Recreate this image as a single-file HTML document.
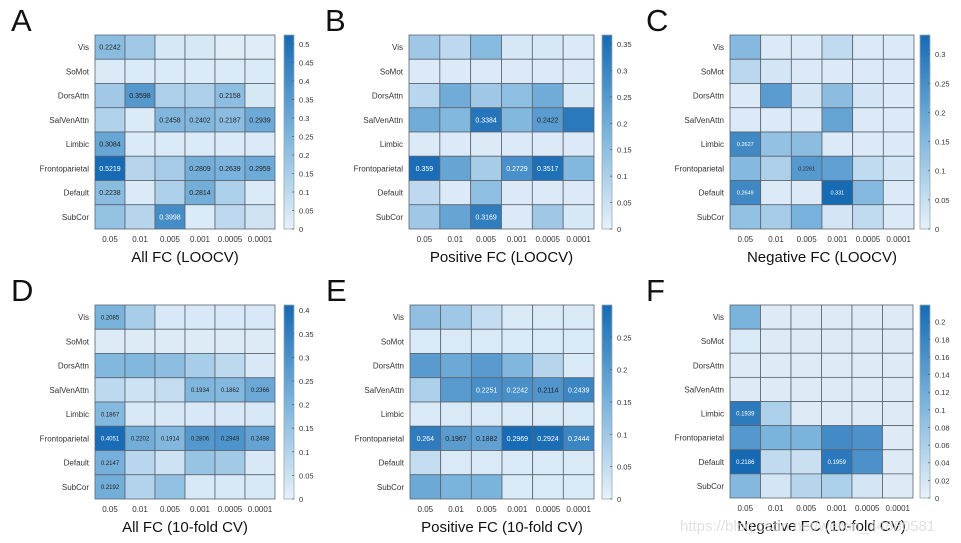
<!DOCTYPE html>
<html><head><meta charset="utf-8"><style>
html,body{margin:0;padding:0;background:#fff;}
svg{display:block;font-family:"Liberation Sans","DejaVu Sans",sans-serif;}
</style></head><body>
<svg id="fig" width="961" height="543" viewBox="0 0 961 543"></svg>
<script>
const rowLabels = ["Vis","SoMot","DorsAttn","SalVenAttn","Limbic","Frontoparietal","Default","SubCor"];
const colLabels = ["0.05","0.01","0.005","0.001","0.0005","0.0001"];
const valuesA = [[.2242,.17,.04,.04,.02,.02],[.03,.03,.03,.03,.03,.03],[.17,.3598,.14,.14,.2158,.04],[.13,.03,.2458,.2402,.2187,.2939],[.3084,.03,.03,.03,.03,.03],[.5219,.12,.16,.2809,.2639,.2959],[.2238,.03,.14,.2814,.14,.03],[.2,.12,.3998,.03,.1,.06]];
const labeledA = [[1,0,0,0,0,0],[0,0,0,0,0,0],[0,1,0,0,1,0],[0,0,1,1,1,1],[1,0,0,0,0,0],[1,0,0,1,1,1],[1,0,0,1,0,0],[0,0,1,0,0,0]];
const valuesB = [[.12,.07,.16,.03,.03,.02],[.02,.02,.02,.02,.02,.02],[.08,.2,.12,.15,.2,.03],[.2,.17,.3384,.17,.2422,.33],[.02,.02,.02,.02,.02,.02],[.359,.22,.11,.2729,.3517,.17],[.07,.02,.15,.02,.02,.02],[.12,.22,.3169,.02,.12,.03]];
const labeledB = [[0,0,0,0,0,0],[0,0,0,0,0,0],[0,0,0,0,0,0],[0,0,1,0,1,0],[0,0,0,0,0,0],[1,0,0,1,1,0],[0,0,0,0,0,0],[0,0,1,0,0,0]];
const valuesC = [[.15,.02,.02,.06,.02,.02],[.07,.03,.02,.02,.02,.02],[.02,.22,.03,.14,.03,.02],[.02,.02,.02,.2,.02,.02],[.2627,.13,.14,.02,.02,.02],[.15,.09,.2261,.21,.06,.03],[.2649,.02,.02,.331,.15,.02],[.13,.1,.17,.03,.06,.02]];
const labeledC = [[0,0,0,0,0,0],[0,0,0,0,0,0],[0,0,0,0,0,0],[0,0,0,0,0,0],[1,0,0,0,0,0],[0,0,1,0,0,0],[1,0,0,1,0,0],[0,0,0,0,0,0]];
const valuesD = [[.2085,.12,.03,.03,.03,.03],[.02,.02,.02,.02,.02,.02],[.19,.19,.17,.12,.08,.03],[.08,.05,.07,.1934,.1862,.2366],[.1867,.03,.03,.03,.03,.03],[.4051,.2202,.1914,.2806,.2949,.2498],[.2147,.09,.05,.15,.13,.03],[.2192,.1,.16,.03,.03,.03]];
const labeledD = [[1,0,0,0,0,0],[0,0,0,0,0,0],[0,0,0,0,0,0],[0,0,0,1,1,1],[1,0,0,0,0,0],[1,1,1,1,1,1],[1,0,0,0,0,0],[1,0,0,0,0,0]];
const valuesE = [[.12,.1,.05,.02,.02,.02],[.02,.02,.02,.02,.02,.02],[.2,.17,.2,.14,.07,.02],[.08,.2,.2251,.2242,.2114,.2439],[.02,.02,.02,.02,.02,.02],[.264,.1967,.1882,.2969,.2924,.2444],[.05,.02,.02,.02,.02,.02],[.17,.15,.15,.02,.02,.02]];
const labeledE = [[0,0,0,0,0,0],[0,0,0,0,0,0],[0,0,0,0,0,0],[0,0,1,1,1,1],[0,0,0,0,0,0],[1,1,1,1,1,1],[0,0,0,0,0,0],[0,0,0,0,0,0]];
const valuesF = [[.11,.01,.01,.01,.01,.01],[.015,.01,.01,.01,.01,.01],[.01,.01,.01,.01,.01,.01],[.01,.01,.01,.01,.01,.01],[.1939,.06,.01,.01,.01,.01],[.15,.11,.11,.17,.16,.01],[.2186,.04,.03,.1959,.16,.01],[.1,.02,.05,.06,.02,.01]];
const labeledF = [[0,0,0,0,0,0],[0,0,0,0,0,0],[0,0,0,0,0,0],[0,0,0,0,0,0],[1,0,0,0,0,0],[0,0,0,0,0,0],[1,0,0,1,0,0],[0,0,0,0,0,0]];
const maxA=0.524, maxB=0.367, maxC=0.333, maxD=0.411, maxE=0.30, maxF=0.219;
const ticksA=["0","0.05","0.1","0.15","0.2","0.25","0.3","0.35","0.4","0.45","0.5"];
const ticksB=["0","0.05","0.1","0.15","0.2","0.25","0.3","0.35"];
const ticksC=["0","0.05","0.1","0.15","0.2","0.25","0.3"];
const ticksD=["0","0.05","0.1","0.15","0.2","0.25","0.3","0.35","0.4"];
const ticksE=["0","0.05","0.1","0.15","0.2","0.25"];
const ticksF=["0","0.02","0.04","0.06","0.08","0.1","0.12","0.14","0.16","0.18","0.2"];

const NS="http://www.w3.org/2000/svg";
const svg=document.getElementById('fig');
function mk(tag,attrs,parent){const e=document.createElementNS(NS,tag);for(const k in attrs)e.setAttribute(k,attrs[k]);(parent||svg).appendChild(e);return e;}
const stops=[[232,241,250],[122,179,220],[22,106,180]];
function color(t){t=Math.max(0,Math.min(1,t));let a,b,u;if(t<.5){a=stops[0];b=stops[1];u=t/.5;}else{a=stops[1];b=stops[2];u=(t-.5)/.5;}
return 'rgb('+a.map((v,i)=>Math.round(v+(b[i]-v)*u)).join(',')+')';}

const panels=[
 {id:'a',letter:'A',title:'All FC (LOOCV)',vals:valuesA,lab:labeledA,max:maxA,ticks:ticksA,gx:95,gy:35,gw:180,gh:194,cbx:284,fs:7},
 {id:'b',letter:'B',title:'Positive FC (LOOCV)',vals:valuesB,lab:labeledB,max:maxB,ticks:ticksB,gx:409,gy:35,gw:185,gh:194,cbx:602,fs:7},
 {id:'c',letter:'C',title:'Negative FC (LOOCV)',vals:valuesC,lab:labeledC,max:maxC,ticks:ticksC,gx:730,gy:35,gw:184,gh:194,cbx:920,fs:5.5},
 {id:'d',letter:'D',title:'All FC (10-fold CV)',vals:valuesD,lab:labeledD,max:maxD,ticks:ticksD,gx:95,gy:305,gw:180,gh:194,cbx:284,fs:6},
 {id:'e',letter:'E',title:'Positive FC (10-fold CV)',vals:valuesE,lab:labeledE,max:maxE,ticks:ticksE,gx:410,gy:305,gw:184,gh:194,cbx:602,fs:7},
 {id:'f',letter:'F',title:'Negative FC (10-fold CV)',vals:valuesF,lab:labeledF,max:maxF,ticks:ticksF,gx:730,gy:305,gw:183,gh:193,cbx:920,fs:6},
];
const defs=mk('defs',{});
const lg=mk('linearGradient',{id:'cbg',x1:0,y1:1,x2:0,y2:0},defs);
[0,.5,1].forEach((o,i)=>mk('stop',{offset:o,'stop-color':'rgb('+stops[i].join(',')+')'},lg));

panels.forEach(p=>{
 const g=mk('g',{});
 
 
 const L=mk('text',{x:p.gx-84,y:p.gy-4,'font-size':31,fill:'#111'},g);L.textContent=p.letter;
 
 
 const cw=p.gw/6, ch=p.gh/8;
 const xs=c=>p.gx+c*cw, ys=r=>p.gy+r*ch;
 p.vals.forEach((row,r)=>row.forEach((v,c)=>{
  const t=v/p.max;
  const rc=mk('rect',{x:xs(c),y:ys(r),width:cw,height:ch,fill:color(t),stroke:'#5a6470','stroke-width':0.8},g);
  
  
  if(p.lab[r][c]){
   const tx=mk('text',{x:xs(c)+cw/2,y:ys(r)+ch/2+p.fs*0.36,'text-anchor':'middle','font-size':p.fs,fill:t>0.72?'#fff':'#222'},g);
   tx.textContent=String(v);
   
   
  }
 }));
 rowLabels.forEach((lbl,r)=>{
  const t=mk('text',{x:p.gx-6,y:ys(r)+ch/2+3,'text-anchor':'end','font-size':8,fill:'#333'},g);t.textContent=lbl;
  
  
 });
 colLabels.forEach((lbl,c)=>{
  const t=mk('text',{x:xs(c)+cw/2,y:p.gy+p.gh+13,'text-anchor':'middle','font-size':8,fill:'#333'},g);t.textContent=lbl;
  
  
 });
 const tt=mk('text',{x:p.gx+p.gw/2,y:p.gy+p.gh+33,'text-anchor':'middle','font-size':15,fill:'#111'},g);tt.textContent=p.title;
 
 
 const cb=mk('rect',{x:p.cbx,y:p.gy,width:10,height:p.gh,fill:'url(#cbg)',stroke:'#9aa',"stroke-width":0.8},g);
 
 
 p.ticks.forEach(tk=>{
  const y=p.gy+p.gh-(parseFloat(tk)/p.max)*p.gh;
  mk('line',{x1:p.cbx+8,x2:p.cbx+10,y1:y,y2:y,stroke:'#555','stroke-width':0.7},g);
  const t=mk('text',{x:p.cbx+15,y:y+3,'font-size':7.5,fill:'#333'},g);t.textContent=tk;
  
  
 });
});
const wm=mk('text',{x:680,y:531,'font-size':15,fill:'#d8d8d8','fill-opacity':0.8});
wm.textContent='https://blog.csdn.net/weixin_44880581';


</script>
</body></html>
